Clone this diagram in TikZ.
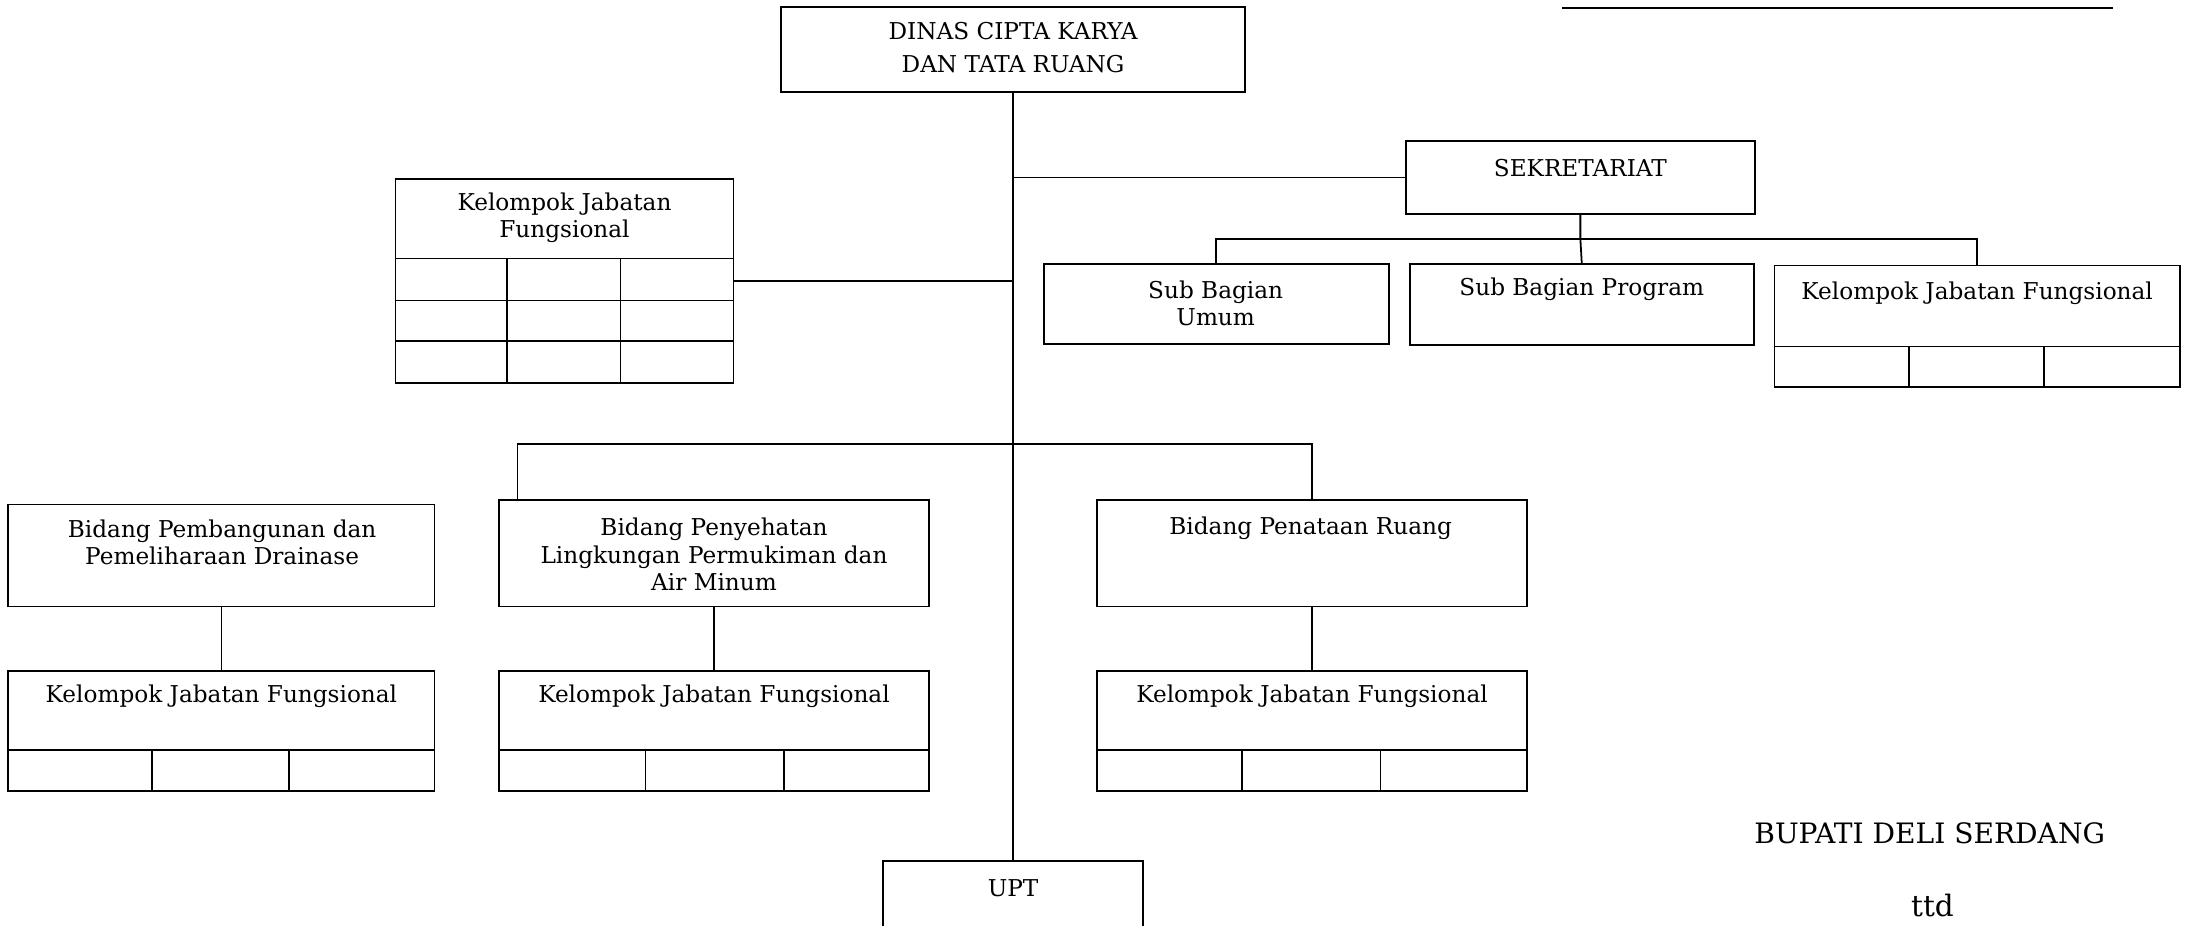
\documentclass[tikz,border=0pt]{standalone}
\usepackage{fontspec}
\setmainfont{DejaVu Serif}
\usetikzlibrary{fit,calc}

\begin{document}
\begin{tikzpicture}[x=0.025cm,y=-0.025cm,line width=0.9pt,
        box/.style={draw,inner sep=0pt},
        lbl/.style={align=center,inner sep=0pt,font=\fontsize{11.8}{14}\selectfont}]
    \useasboundingbox (0,0) rectangle (1568,662);

    % top
    \node[box,fit={(559,5) (891,66)}] (dinas) {};
    \node[lbl,font=\fontsize{11.8}{16.4}\selectfont] (dinas-t) at (725,34) {DINAS CIPTA KARYA\\DAN TATA RUANG};
    \draw (1118,6) -- (1512,6);

    % sekretariat
    \node[box,fit={(1006,101) (1256,153)}] (sek) {};
    \node[lbl] (sek-t) at (1131,120) {SEKRETARIAT};
    \node[box,fit={(747,189) (994,246)}] (umum) {};
    \node[lbl] (umum-t) at (870,217) {Sub Bagian\\Umum};
    \node[box,fit={(1009,189) (1255,247)}] (prog) {};
    \node[lbl] (prog-t) at (1132,207) {Sub Bagian Program};
    \node[box,fit={(1270,190) (1560,277)}] (kjfR) {};
    \node[lbl] (kjfR-t) at (1415,210) {Kelompok Jabatan Fungsional};
    \draw (1270,248) -- (1560,248);
    \foreach \x in {1366,1463}
        \draw (\x,248) -- (\x,277);

    % kelompok jabatan fungsional (kiri)
    \node[box,fit={(283,128) (525,274)}] (kjfL) {};
    \node[lbl] (kjfL-t) at (404,156) {Kelompok Jabatan\\Fungsional};
    \foreach \y in {185,215,244}
        \draw (283,\y) -- (525,\y);
    \foreach \x in {363,444}
        \draw (\x,185) -- (\x,274);

    % bidang
    \node[box,fit={(6,361) (311,434)}] (bid1) {};
    \node[lbl] (bid1-t) at (159,388) {Bidang Pembangunan dan\\Pemeliharaan Drainase};
    \node[box,fit={(357,358) (665,434)}] (bid2) {};
    \node[lbl] (bid2-t) at (511,397) {Bidang Penyehatan\\Lingkungan Permukiman dan\\Air Minum};
    \node[box,fit={(785,358) (1093,434)}] (bid3) {};
    \node[lbl] (bid3-t) at (938,378) {Bidang Penataan Ruang};

    % kelompok jabatan fungsional (bawah)
    % X % 6-311   357-665   785-1093
    \node[box,fit={(6,480) (311,566)}] (kjf1) {};
    \node[box,fit={(357,480) (665,566)}] (kjf2) {};
    \node[box,fit={(785,480) (1093,566)}] (kjf3) {};
    \foreach \n/\a/\b in {kjf1/109/207,kjf2/462/561,kjf3/889/988}
    {
        \node[lbl] (\n-t) at ($(\n.north)+(0,19)$) {Kelompok Jabatan Fungsional};
        \draw (\n.west |- 0,537) -- (\n.east |- 0,537);
        \draw (\a,537) -- (\a,566);
        \draw (\b,537) -- (\b,566);
    }

    % upt
    \node[box,fit={(632,616) (818,672)}] (upt) {};
    \node[lbl] (upt-t) at (725,636) {UPT};

    % garis
    \coordinate (sekbar) at (1131,171);
    \coordinate (bidbar) at (725,318);
    \draw (dinas.south) -- (upt.north);
    \draw (dinas.south |- sek.west) -- (sek.west);
    \draw (kjfL.east) -- (dinas.south |- kjfL.east);
    \draw (sek.south) -- (sekbar) -- (prog.north);
    \draw (umum.north) |- (sekbar) -| (kjfR.north);
    \draw ($(bid2.north west)+(14,0)$) |- (bidbar) -| (bid3.north);
    \draw (bid1.south) -- (kjf1.north);
    \draw (bid2.south) -- (kjf2.north);
    \draw (bid3.south) -- (kjf3.north);

    % pengesahan
    \node[lbl,font=\fontsize{14.3}{16}\selectfont] (bupati) at (1381,596) {BUPATI DELI SERDANG};
    \node[lbl,font=\fontsize{15}{16}\selectfont] (ttd) at (1383,648) {ttd};
\end{tikzpicture}
\end{document}
